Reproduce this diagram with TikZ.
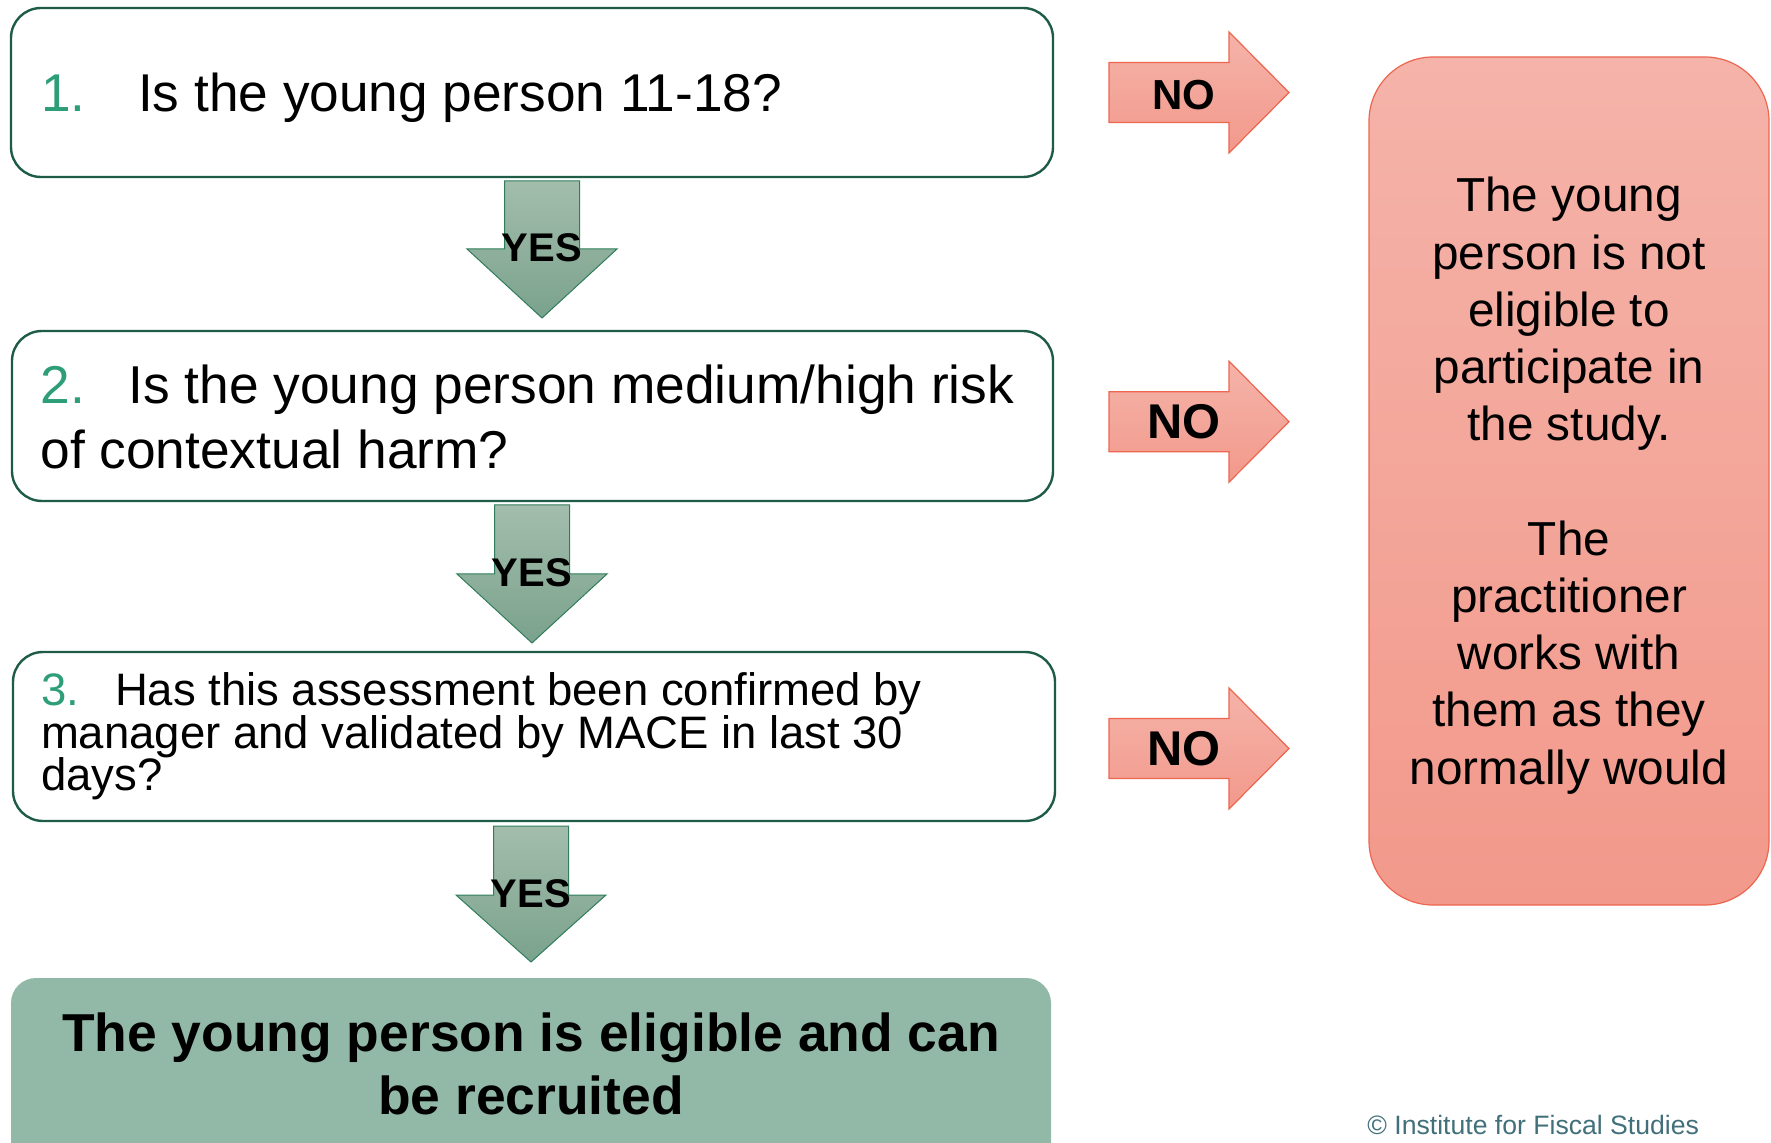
\documentclass[tikz,border=0pt]{standalone}
\usepackage{fontspec}
\setmainfont{Liberation Sans}
\usepackage{tikz}

\definecolor{boxgreen}{HTML}{1F5C45}
\definecolor{numgreen}{HTML}{2E9E78}
\definecolor{yestop}{HTML}{A3BDAC}
\definecolor{yesbot}{HTML}{7AA28C}
\definecolor{yesedge}{HTML}{2F7D5C}
\definecolor{notop}{HTML}{F5B3A9}
\definecolor{nobot}{HTML}{F2998B}
\definecolor{noedge}{HTML}{EC6650}
\definecolor{okfill}{HTML}{92B9A8}
\definecolor{ifsgrey}{HTML}{41707A}

\newcommand{\setfs}[2]{\fontsize{#1}{#2}\selectfont}

\tikzset{
  qbox/.style={draw=boxgreen, line width=1.2pt, rounded corners=15pt, fill=white, inner sep=0pt},
  qtext/.style={anchor=base west, inner sep=0pt},
  yesarrow/.style={draw=yesedge, line width=0.5pt, top color=yestop, bottom color=yesbot},
  noarrow/.style={draw=noedge, line width=0.6pt, top color=notop, bottom color=nobot},
  yeslabel/.style={anchor=base, inner sep=0pt, font=\bfseries\setfs{20}{20}},
  nolabel/.style={anchor=base, inner sep=0pt, font=\bfseries},
  outbox/.style={draw=noedge, line width=0.6pt, rounded corners=32pt, top color=notop, bottom color=nobot, inner sep=0pt},
  okbox/.style={fill=okfill, rounded corners=12.5pt, inner sep=0pt}
}

\begin{document}
\begin{tikzpicture}[x=0.5pt,y=-0.5pt]
  \useasboundingbox (0,0) rectangle (1771,1143);

  % question boxes
  \node[qbox, minimum width=521pt, minimum height=84.5pt] (q1) at (532,92.5) {};
  \node[qbox, minimum width=520.5pt, minimum height=85pt] (q2) at (532.5,416) {};
  \node[qbox, minimum width=521pt, minimum height=84.5pt] (q3) at (534,736.5) {};
  \node[okbox, minimum width=520pt, minimum height=96pt] (ok) at (531,1074) {};
  \node[outbox, minimum width=200pt, minimum height=424pt] (out) at (1569,481) {};

  % question texts
  \node[qtext, font=\setfs{26.6}{32}] (q1a) at (40.8,111.7) {\makebox[48.5pt][l]{\color{numgreen}1.}Is the young person 11-18?};
  \node[qtext, font=\setfs{26.65}{32}] (q2a) at (40,404) {\makebox[44pt][l]{\color{numgreen}2.}Is the young person medium/high risk};
  \node[qtext, font=\setfs{26.65}{32}] (q2b) at (40,468.3) {of contextual harm?};
  \node[qtext, font=\setfs{22.75}{22}] (q3a) at (40.6,705.7) {\makebox[37pt][l]{\color{numgreen}3.}Has this assessment been confirmed by};
  \node[qtext, font=\setfs{22.75}{22}] (q3b) at (40.6,748) {manager and validated by MACE in last 30};
  \node[qtext, font=\setfs{22.75}{22}] (q3c) at (40.6,790) {days?};

  % yes arrows
  \foreach \cx/\ya/\yb/\yc [count=\i] in {542/181/249/318, 532/505/574/643, 531/826/895/962} {
    \draw[yesarrow] (\cx-37.5,\ya) -- (\cx+37.5,\ya) -- (\cx+37.5,\yb) -- (\cx+75,\yb)
      -- (\cx,\yc) -- (\cx-75,\yb) -- (\cx-37.5,\yb) -- cycle;
    \node[yeslabel] (yes\i) at (\cx,\yb+12.7) {YES};
  }

  % no arrows
  \foreach \cy/\sz [count=\i] in {92.5/21, 421.7/24.4, 748.5/24.4} {
    \draw[noarrow] (1109,\cy-30) -- (1229,\cy-30) -- (1229,\cy-60.5) -- (1289,\cy)
      -- (1229,\cy+60.5) -- (1229,\cy+30) -- (1109,\cy+30) -- cycle;
    \node[nolabel] (no\i) at (1184,\cy+17) {\setfs{\sz}{\sz}NO};
  }

  % outcome texts
  \foreach \n/\txt in {0/The young, 1/person is not, 2/eligible to, 3/participate in, 4/the study.,
                       6/The, 7/practitioner, 8/works with, 9/them as they, 10/normally would}
    \node[anchor=base, inner sep=0pt, font=\setfs{23.85}{24}] (out\n) at (1569,212+57.2*\n) {\txt};

  \node[anchor=base, inner sep=0pt, font=\bfseries\setfs{26.7}{27}] (oka) at (531,1051) {The young person is eligible and can};
  \node[anchor=base, inner sep=0pt, font=\bfseries\setfs{26.7}{27}] (okb) at (531,1114) {be recruited};

  \node[qtext, text=ifsgrey, font=\setfs{13.3}{13.3}] (ifs) at (1367,1134) {\textcopyright{} Institute for Fiscal Studies};
\end{tikzpicture}
\end{document}
